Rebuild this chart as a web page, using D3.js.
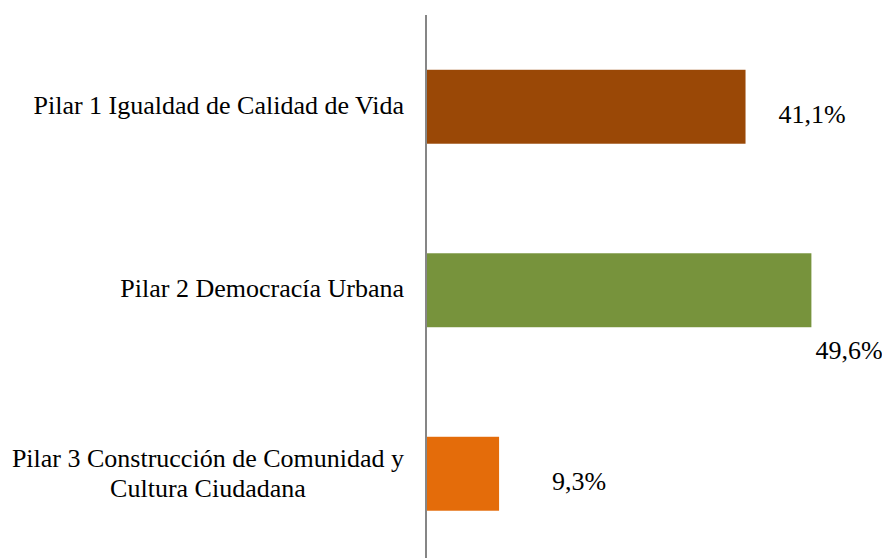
<!DOCTYPE html>
<html>
<head>
<meta charset="utf-8">
<script src="https://cdn.jsdelivr.net/npm/d3@7"></script>
<style>
  html, body { margin: 0; padding: 0; background: #fff; }
  svg { display: block; }
</style>
</head>
<body>
<div id="chart"></div>
<script>
const categories = [
  ["Pilar 1 Igualdad de Calidad de Vida"],
  ["Pilar 2 Democracía Urbana"],
  ["Pilar 3 Construcción de Comunidad y", "Cultura Ciudadana"]
];
const values = [41.1, 49.6, 9.3];
const valueLabels = ["41,1%", "49,6%", "9,3%"];
const colors = ["#9A4806", "#77933C", "#E46C0A"];

const W = 882, H = 558;
const FONT = "Liberation Serif, Times New Roman, serif";
const svg = d3.select("#chart").append("svg").attr("width", W).attr("height", H);

const x = d3.scaleLinear().domain([0, 60]).range([427, 892]);
const y = d3.scaleBand().domain(d3.range(values.length))
  .range([15, 565.5]).paddingInner(0.597).paddingOuter(0.2985);

// bars
svg.selectAll("rect.bar").data(values).join("rect")
  .attr("class", "bar")
  .attr("x", x(0))
  .attr("y", (d, i) => y(i))
  .attr("width", d => x(d) - x(0))
  .attr("height", y.bandwidth())
  .attr("fill", (d, i) => colors[i]);

// axis line
const axis = d3.axisLeft(y).tickSize(0).tickFormat("");
const ag = svg.append("g").attr("transform", `translate(${x(0) - 1},0)`).call(axis);
ag.select(".domain").attr("stroke", "#868686").attr("stroke-width", 2)
  .attr("d", `M0,15V${H}`);

// category labels
const fs = 26, lh = 30;
const labelRight = 404;
svg.selectAll("text.cat").data(categories).join("text")
  .attr("class", "cat")
  .attr("font-family", FONT)
  .attr("font-size", fs)
  .attr("fill", "#000")
  .each(function(lines, i) {
    const cy = y(i) + y.bandwidth() / 2;
    const t = d3.select(this);
    if (lines.length === 1) {
      t.attr("text-anchor", "end")
        .append("tspan").attr("x", labelRight).attr("y", cy + 7).text(lines[0]);
    } else {
      t.attr("text-anchor", "middle");
      const tmp = lines.map(ln => t.append("tspan").text(ln));
      const widths = tmp.map(s => s.node().getComputedTextLength());
      tmp.forEach(s => s.remove());
      const cx = labelRight - d3.max(widths) / 2;
      lines.forEach((ln, k) => {
        t.append("tspan")
          .attr("x", cx)
          .attr("y", cy + 8 + (k - (lines.length - 1) / 2) * lh)
          .text(ln);
      });
    }
  });

// value labels (manually offset as in the original)
const labelDx = [33, 4, 53];
const labelDy = [16, 69, 16];
svg.selectAll("text.val").data(values).join("text")
  .attr("class", "val")
  .attr("font-family", FONT)
  .attr("font-size", fs)
  .attr("fill", "#000")
  .attr("x", (d, i) => x(d) + labelDx[i])
  .attr("y", (d, i) => y(i) + y.bandwidth() / 2 + labelDy[i])
  .text((d, i) => valueLabels[i]);
</script>
</body>
</html>
